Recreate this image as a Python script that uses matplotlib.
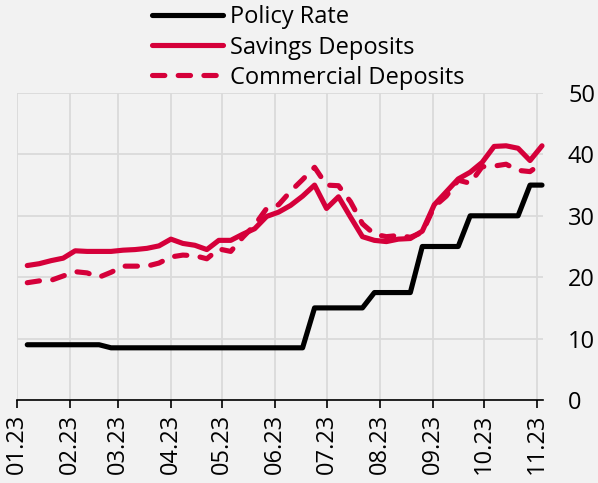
import numpy as np
import pandas as pd
import matplotlib
matplotlib.use("Agg")
import matplotlib.pyplot as plt
import matplotlib.dates as mdates

plt.rcParams['font.family'] = ['Open Sans', 'DejaVu Sans']

# weekly observations, 2023
dates = pd.date_range('2023-01-07', periods=44, freq='7D')

policy_rate = [9.0, 9.0, 9.0, 9.0, 9.0, 9.0, 9.0,
               8.5, 8.5, 8.5, 8.5, 8.5, 8.5, 8.5, 8.5, 8.5, 8.5, 8.5, 8.5, 8.5, 8.5, 8.5, 8.5, 8.5,
               15.0, 15.0, 15.0, 15.0, 15.0,
               17.5, 17.5, 17.5, 17.5,
               25.0, 25.0, 25.0, 25.0,
               30.0, 30.0, 30.0, 30.0, 30.0,
               35.0, 35.0]

savings = [21.9, 22.2, 22.7, 23.1, 24.3, 24.2, 24.2, 24.2, 24.4, 24.5, 24.7, 25.1,
           26.2, 25.5, 25.2, 24.5, 26.0, 26.0, 27.0, 27.9, 29.9, 30.6, 31.7, 33.2,
           35.0, 31.2, 33.1, 29.8, 26.6, 26.0, 25.8, 26.2, 26.3, 27.5, 31.8, 33.9,
           36.0, 37.1, 38.7, 41.3, 41.4, 41.0, 39.0, 41.4]

commercial = [19.1, 19.4, 19.5, 20.2, 20.9, 20.7, 20.0, 20.8, 21.8, 21.8, 21.8, 22.3,
              23.3, 23.6, 23.5, 23.0, 24.6, 24.2, 26.5, 28.5, 31.2, 31.8, 34.0, 35.9,
              37.9, 35.0, 34.9, 32.3, 28.7, 27.0, 26.6, 26.8, 26.5, 27.3, 31.5, 33.2,
              35.8, 35.3, 38.0, 38.1, 38.4, 37.4, 37.2, 38.6]

red = '#d5003a'
bg = '#f2f2f2'
grid_c = '#dadada'

fig = plt.figure(figsize=(5.98, 4.83), dpi=100, facecolor=bg)
ax = fig.add_axes([17/598, 1 - 400/483, (543 - 17)/598, (400 - 93)/483])
ax.set_facecolor(bg)

lw = 3.7
ax.plot(dates, policy_rate, color='black', lw=lw, solid_capstyle='round',
        solid_joinstyle='round', label='Policy Rate', clip_on=False, zorder=3)
ax.plot(dates, savings, color=red, lw=lw, solid_capstyle='round',
        solid_joinstyle='round', label='Savings Deposits', clip_on=False, zorder=3)
ax.plot(dates, commercial, color=red, lw=lw, dashes=(2.4, 2.6), dash_capstyle='round',
        label='Commercial Deposits', clip_on=False, zorder=3)

ax.set_xlim(pd.Timestamp('2023-01-01'), pd.Timestamp('2023-11-04 14:00'))
ax.set_ylim(0, 50)

ax.xaxis.set_major_locator(mdates.MonthLocator())
ax.xaxis.set_major_formatter(mdates.DateFormatter('%m.%y'))
ax.tick_params(axis='x', rotation=90, labelsize=17, length=6, width=1.2,
               color='black', pad=4)

ax.yaxis.tick_right()
ax.set_yticks([0, 10, 20, 30, 40, 50])
ax.tick_params(axis='y', length=0, labelsize=17, pad=18)
for lab in ax.get_yticklabels():
    lab.set_horizontalalignment('left')

ax.grid(True, color=grid_c, lw=1.3)
ax.set_axisbelow(True)
for s in ['top', 'left', 'right']:
    ax.spines[s].set_visible(False)
ax.spines['bottom'].set_color('black')
ax.spines['bottom'].set_linewidth(1.2)

ax.legend(loc='upper left', bbox_to_anchor=(150/598, 1 - 3/483), bbox_transform=fig.transFigure,
          frameon=False, fontsize=17, handlelength=3.0, handletextpad=0.3,
          labelspacing=0.26, borderaxespad=0, borderpad=0.1)

fig.savefig('out.png', dpi=100, facecolor=bg)
